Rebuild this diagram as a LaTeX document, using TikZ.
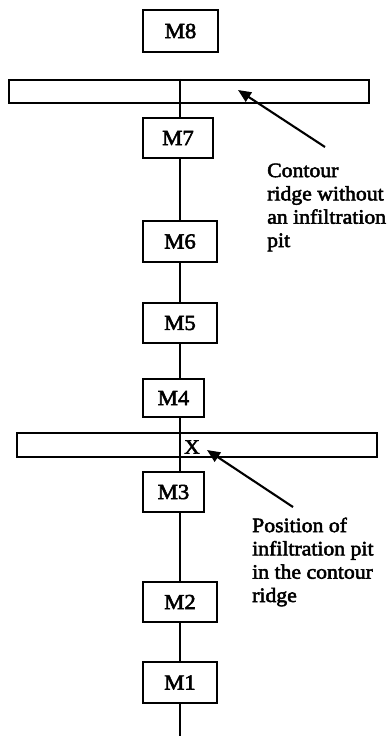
\documentclass[tikz,border=0pt]{standalone}
\usepackage{fontspec}
\setmainfont{Liberation Serif}[FakeStretch=1.06,FakeBold=2.5]
\usetikzlibrary{arrows.meta}
\begin{document}
\begin{tikzpicture}[x=1pt,y=-1pt,
  every node/.style={font=\fontsize{20.5}{23.3}\selectfont},
  mbox/.style={draw,line width=2.1pt,fill=white,inner sep=0pt,minimum height=40pt,
    font=\fontsize{21.5}{24}\selectfont},
  ridge/.style={draw,line width=2.1pt,inner sep=0pt},
  spine/.style={line width=2.1pt},
  pointer/.style={line width=2.1pt,-{Triangle[length=13pt,width=11pt]}},
  note/.style={align=left,anchor=base west,inner sep=0pt}]
\useasboundingbox (0,0) rectangle (389,736);
% boxes
\node[mbox,minimum width=75pt,minimum height=42pt] (M8) at (180.5,31) {M8};
\node[ridge,minimum width=360pt,minimum height=23pt] (R1) at (189,91.5) {};
\node[mbox,minimum width=70pt] (M7) at (178,138) {M7};
\node[mbox,minimum width=74pt,minimum height=41pt] (M6) at (180,241.5) {M6};
\node[mbox,minimum width=74pt] (M5) at (180,323) {M5};
\node[mbox,minimum width=61pt,minimum height=38pt] (M4) at (173.5,398) {M4};
\node[ridge,minimum width=360pt,minimum height=24pt] (R2) at (197,445) {};
\node[mbox,minimum width=61pt] (M3) at (173.5,492) {M3};
\node[mbox,minimum width=74pt] (M2) at (180,602) {M2};
\node[mbox,minimum width=74pt,minimum height=41pt] (M1) at (180,682.5) {M1};
\node[inner sep=0pt] (X) at (192,447) {X};
\coordinate (sp) at (180,0);
\coordinate (bot) at (180,736);
% spine
\draw[spine] (sp |- R1.north) -- (sp |- M7.north);
\draw[spine] (sp |- M7.south) -- (M6.north);
\draw[spine] (M6.south) -- (M5.north);
\draw[spine] (M5.south) -- (sp |- M4.north);
\draw[spine] (sp |- M4.south) -- (sp |- R2.north);
\draw[spine] (sp |- R2.north) -- (sp |- M3.north);
\draw[spine] (sp |- M3.south) -- (M2.north);
\draw[spine] (M2.south) -- (M1.north);
\draw[spine] (M1.south) -- (bot);
% notes (anchor = baseline of the last line)
\node[note] (N1) at (267,247) {Contour\\ridge without\\an infiltration\\pit};
\node[note] (N2) at (252,602) {Position of\\infiltration pit\\in the contour\\ridge};
\coordinate (a1s) at (325,147);
\coordinate (a1t) at (238,90);
\coordinate (a2s) at (293,507);
\coordinate (a2t) at (207,450);
\draw[pointer] (a1s) -- (a1t);
\draw[pointer] (a2s) -- (a2t);
\end{tikzpicture}
\end{document}
